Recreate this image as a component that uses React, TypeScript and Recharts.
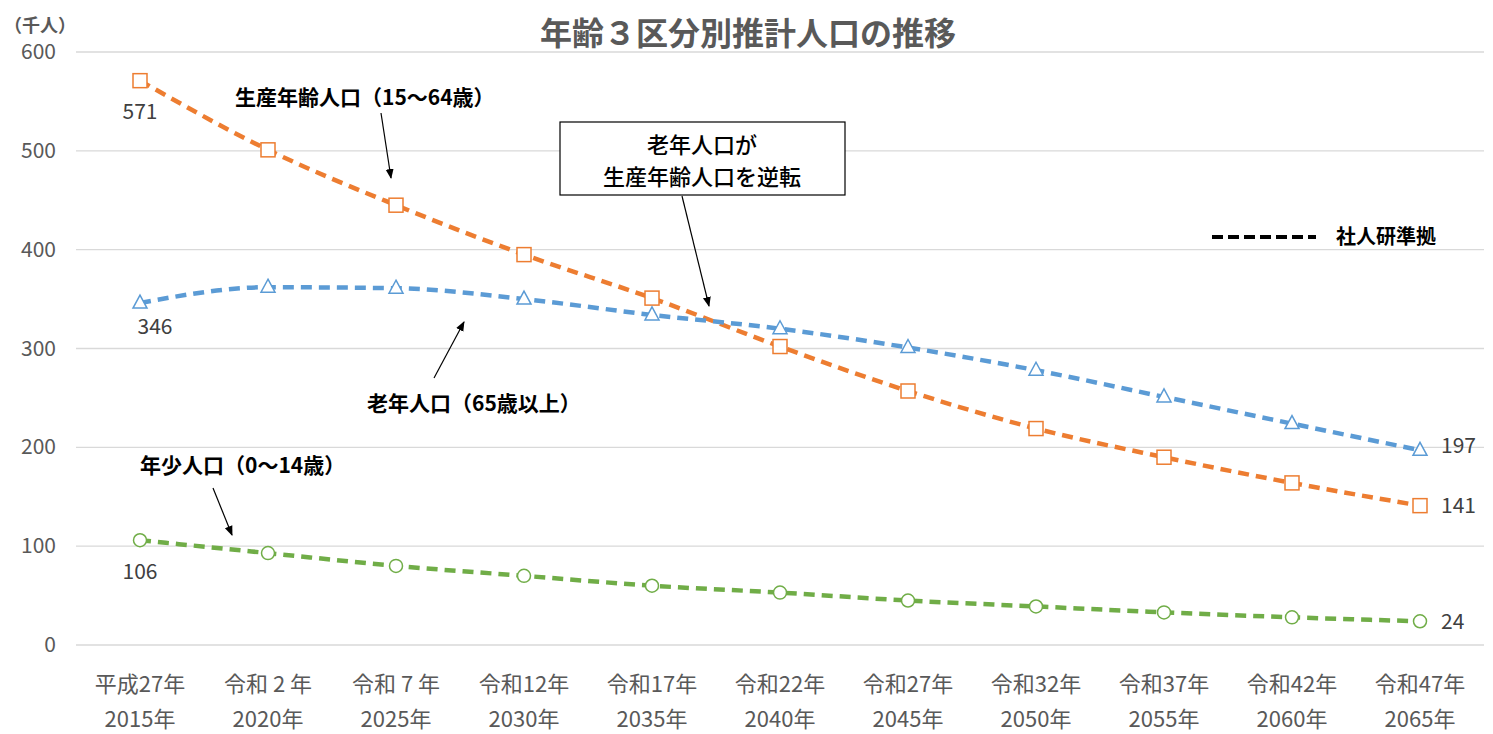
import React from 'react'
import { LineChart, Line, XAxis, YAxis, CartesianGrid, LabelList } from 'recharts'

const eraLabels = ['平成27年', '令和 2 年', '令和 7 年', '令和12年', '令和17年', '令和22年', '令和27年', '令和32年', '令和37年', '令和42年', '令和47年']
const yearLabels = ['2015年', '2020年', '2025年', '2030年', '2035年', '2040年', '2045年', '2050年', '2055年', '2060年', '2065年']
const working = [571, 501, 445, 395, 351, 302, 257, 219, 190, 164, 141]
const elderly = [346, 362, 361, 350, 334, 320, 301, 278, 251, 224, 197]
const young = [106, 93, 80, 70, 60, 53, 45, 39, 33, 28, 24]
const yTicks = [0, 100, 200, 300, 400, 500, 600]

const data = yearLabels.map((y, i) => ({
  year: y,
  era: eraLabels[i],
  working: working[i],
  elderly: elderly[i],
  young: young[i],
}))

const FONT = '"Noto Sans CJK JP", "Noto Sans", sans-serif'
const GRAY = '#595959'
const ORANGE = '#ED7D31'
const BLUE = '#5B9BD5'
const GREEN = '#70AD47'

const XTick = (props: any) => {
  const { x, y, payload, index } = props
  return (
    <g>
      <text x={x} y={y + 39} textAnchor="middle" fontSize={22} fill={GRAY} fontFamily={FONT}>
        {eraLabels[index]}
      </text>
      <text x={x} y={y + 74} textAnchor="middle" fontSize={22} fill={GRAY} fontFamily={FONT}>
        {payload.value}
      </text>
    </g>
  )
}

const YTick = (props: any) => {
  const { y, payload } = props
  return (
    <text x={56} y={y + 7} textAnchor="end" fontSize={21} fill={GRAY} fontFamily={FONT}>
      {payload.value}
    </text>
  )
}

const SquareDot = (props: any) => {
  const { cx, cy, index } = props
  return <rect key={index} x={cx - 7} y={cy - 7} width={14} height={14} fill="#fff" stroke={ORANGE} strokeWidth={1.5} />
}

const TriDot = (props: any) => {
  const { cx, cy, index } = props
  return (
    <path
      key={index}
      d={`M${cx},${cy - 8} L${cx + 7},${cy + 5} L${cx - 7},${cy + 5} Z`}
      fill="#fff"
      stroke={BLUE}
      strokeWidth={1.5}
    />
  )
}

const CircleDot = (props: any) => {
  const { cx, cy, index } = props
  return <circle key={index} cx={cx} cy={cy} r={6.5} fill="#fff" stroke={GREEN} strokeWidth={1.5} />
}

const endLabel = (firstDx: number, firstDy: number, lastDy: number) => (props: any) => {
  const { x, y, value, index } = props
  if (index === 0) {
    return (
      <text x={x + firstDx} y={y + firstDy} textAnchor="middle" fontSize={21} fill="#404040" fontFamily={FONT}>
        {value}
      </text>
    )
  }
  if (index === data.length - 1) {
    return (
      <text x={x + 21} y={y + lastDy} textAnchor="start" fontSize={21} fill="#404040" fontFamily={FONT}>
        {value}
      </text>
    )
  }
  return null
}

const Arrow = ({ x1, y1, x2, y2 }: { x1: number; y1: number; x2: number; y2: number }) => (
  <line x1={x1} y1={y1} x2={x2} y2={y2} stroke="#000" strokeWidth={1.2} markerEnd="url(#arrowHead)" />
)

export default function App() {
  return (
    <div style={{ position: 'absolute', left: 0, top: 0, width: 1493, height: 734, background: '#fff' }}>
      <LineChart width={1493} height={734} data={data} margin={{ top: 52, right: 9, left: 0, bottom: 9 }}>
        <CartesianGrid vertical={false} stroke="#d9d9d9" strokeWidth={1.3} />
        <XAxis
          dataKey="year"
          axisLine={false}
          tickLine={false}
          tick={<XTick />}
          height={80}
          interval={0}
          padding={{ left: 64, right: 64 }}
        />
        <YAxis
          domain={[0, 600]}
          ticks={yTicks}
          axisLine={false}
          tickLine={false}
          width={76}
          tick={<YTick />}
          interval={0}
        />
        <Line
          type="monotone"
          dataKey="working"
          stroke={ORANGE}
          strokeWidth={4.5}
          strokeDasharray="11 7"
          dot={<SquareDot />}
          activeDot={false}
          isAnimationActive={false}
        >
          <LabelList dataKey="working" content={endLabel(0, 38, 7)} />
        </Line>
        <Line
          type="monotone"
          dataKey="elderly"
          stroke={BLUE}
          strokeWidth={4.5}
          strokeDasharray="11 7"
          dot={<TriDot />}
          activeDot={false}
          isAnimationActive={false}
        >
          <LabelList dataKey="elderly" content={endLabel(15, 31, 3)} />
        </Line>
        <Line
          type="monotone"
          dataKey="young"
          stroke={GREEN}
          strokeWidth={4.5}
          strokeDasharray="11 7"
          dot={<CircleDot />}
          activeDot={false}
          isAnimationActive={false}
        >
          <LabelList dataKey="young" content={endLabel(0, 39, 8)} />
        </Line>
      </LineChart>
      <svg width={1493} height={734} style={{ position: 'absolute', left: 0, top: 0, pointerEvents: 'none' }}>
        <defs>
          <marker id="arrowHead" markerWidth="10" markerHeight="10" refX="9" refY="5" orient="auto" markerUnits="userSpaceOnUse">
            <path d="M0,1 L10,5 L0,9 Z" fill="#000" />
          </marker>
        </defs>
        <text x={748} y={45} textAnchor="middle" fontSize={32} fontWeight="bold" fill={GRAY} fontFamily={FONT}>
          年齢３区分別推計人口の推移
        </text>
        <text x={4} y={32} fontSize={18} fontWeight="bold" fill={GRAY} fontFamily={FONT}>
          （千人）
        </text>
        <text x={235} y={105} fontSize={21} fontWeight="bold" fill="#000" fontFamily={FONT}>
          生産年齢人口（15～64歳）
        </text>
        <Arrow x1={381} y1={113} x2={391} y2={178} />
        <rect x={560} y={122} width={285} height={73} fill="#fff" stroke="#000" strokeWidth={1.2} />
        <text x={702} y={153} textAnchor="middle" fontSize={22} fontWeight={500} fill="#000" fontFamily={FONT}>
          老年人口が
        </text>
        <text x={702} y={185} textAnchor="middle" fontSize={22} fontWeight={500} fill="#000" fontFamily={FONT}>
          生産年齢人口を逆転
        </text>
        <Arrow x1={682} y1={196} x2={709} y2={306} />
        <text x={367} y={411} fontSize={21} fontWeight="bold" fill="#000" fontFamily={FONT}>
          老年人口（65歳以上）
        </text>
        <Arrow x1={434} y1={378} x2={464} y2={322} />
        <text x={140} y={473} fontSize={21} fontWeight="bold" fill="#000" fontFamily={FONT}>
          年少人口（0～14歳）
        </text>
        <Arrow x1={213} y1={488} x2={232} y2={535} />
        <line x1={1212} y1={237} x2={1316} y2={237} stroke="#000" strokeWidth={4} strokeDasharray="11 5" />
        <text x={1336} y={244} fontSize={20} fontWeight="bold" fill="#000" fontFamily={FONT}>
          社人研準拠
        </text>
      </svg>
    </div>
  )
}
